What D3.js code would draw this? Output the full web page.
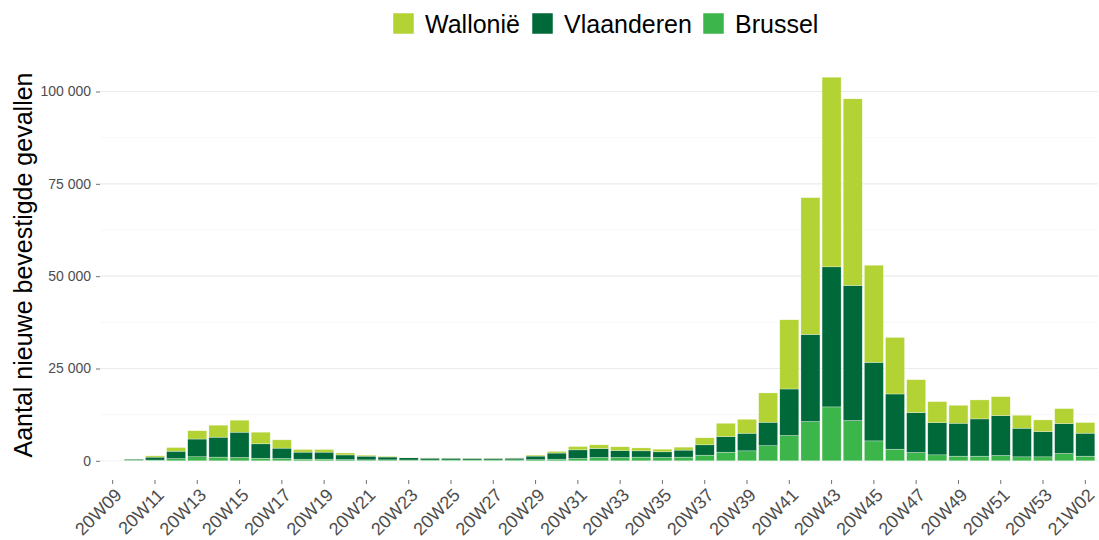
<!DOCTYPE html>
<html>
<head>
<meta charset="utf-8">
<script src="https://cdn.jsdelivr.net/npm/d3@7/dist/d3.min.js"></script>
<style>
body { margin: 0; background: #fff; }
svg { font-family: "Liberation Sans", Arial, sans-serif; }
</style>
</head>
<body>
<svg width="1099" height="540"></svg>
<script>
var weeks = ["20W09","20W10","20W11","20W12","20W13","20W14","20W15","20W16","20W17","20W18",
  "20W19","20W20","20W21","20W22","20W23","20W24","20W25","20W26","20W27","20W28",
  "20W29","20W30","20W31","20W32","20W33","20W34","20W35","20W36","20W37","20W38",
  "20W39","20W40","20W41","20W42","20W43","20W44","20W45","20W46","20W47","20W48",
  "20W49","20W50","20W51","20W52","20W53","21W01","21W02"];

var wallonie = [2, 50, 350, 1000, 2250, 3250, 3250, 3150, 2250, 720,
  720, 540, 270, 200, 120, 80, 70, 60, 60, 80,
  270, 450, 900, 1000, 1000, 800, 720, 800, 1900, 3600,
  3780, 7930, 18740, 37030, 51350, 50540, 26310, 15320, 8920, 5680,
  4860, 5140, 5140, 3510, 3150, 4050, 2880];

var vlaanderen = [5, 300, 800, 2000, 4800, 5400, 6850, 3900, 2800, 1900,
  1900, 1260, 1000, 770, 600, 500, 480, 430, 420, 470,
  980, 1650, 2340, 2430, 1900, 1700, 1530, 1900, 2800, 4230,
  4770, 6350, 12600, 23600, 37930, 36580, 21260, 14950, 10810, 8740,
  8920, 10090, 10810, 7750, 6850, 8110, 6220];

var brussel = [2, 150, 200, 600, 1100, 1000, 900, 700, 630, 450,
  450, 330, 260, 260, 230, 220, 230, 230, 240, 250,
  300, 450, 630, 900, 900, 1000, 900, 1000, 1530, 2340,
  2700, 4100, 6850, 10630, 14600, 10900, 5400, 3150, 2250, 1620,
  1260, 1260, 1440, 1080, 1080, 1980, 1260];

var yTicks = [0, 25000, 50000, 75000, 100000];
var yMinor = [12500, 37500, 62500, 87500];

var regions = ["Wallonië", "Vlaanderen", "Brussel"];
var colors = { "Wallonië": "#b3d335", "Vlaanderen": "#00693a", "Brussel": "#3cb54a" };

var svg = d3.select("svg"),
    width = +svg.attr("width"),
    height = +svg.attr("height");

var margin = { top: 58, right: 1, bottom: 60, left: 100 };

var rows = weeks.map(function(w, i) {
  return { week: w, "Wallonië": wallonie[i], "Vlaanderen": vlaanderen[i], "Brussel": brussel[i] };
});

var stack = d3.stack().keys(["Brussel", "Vlaanderen", "Wallonië"]);
var series = stack(rows);

var maxTotal = d3.max(series[series.length - 1], function(d) { return d[1]; });
var pad = maxTotal * 0.05;

var x = d3.scaleBand()
    .domain(weeks)
    .range([margin.left, width - margin.right])
    .paddingInner(0.1)
    .paddingOuter(0.15);

var y = d3.scaleLinear()
    .domain([-pad, maxTotal + pad])
    .range([height - margin.bottom, margin.top]);

var fmt = d3.formatLocale({ decimal: ",", thousands: "\u00a0", grouping: [3], currency: ["", "€"] }).format(",d");

// grid
svg.append("g")
  .selectAll("line")
  .data(yMinor)
  .enter().append("line")
    .attr("x1", margin.left).attr("x2", width - margin.right)
    .attr("y1", function(d) { return y(d); }).attr("y2", function(d) { return y(d); })
    .attr("stroke", "#f2f2f2").attr("stroke-width", 0.6);

svg.append("g")
  .selectAll("line")
  .data(yTicks)
  .enter().append("line")
    .attr("x1", margin.left).attr("x2", width - margin.right)
    .attr("y1", function(d) { return y(d); }).attr("y2", function(d) { return y(d); })
    .attr("stroke", "#ebebeb").attr("stroke-width", 1.1);

// bars
svg.append("g")
  .selectAll("g")
  .data(series)
  .enter().append("g")
    .attr("fill", function(s) { return colors[s.key]; })
  .selectAll("rect")
  .data(function(s) { return s; })
  .enter().append("rect")
    .attr("x", function(d) { return x(d.data.week); })
    .attr("width", x.bandwidth())
    .attr("y", function(d) { return y(d[1]); })
    .attr("height", function(d) { return Math.max(0, y(d[0]) - y(d[1])); })
    .attr("stroke", "#ffffff")
    .attr("stroke-opacity", 0.6)
    .attr("stroke-width", 0.5);

// y axis
var yAxis = svg.append("g")
    .attr("transform", "translate(" + margin.left + ",0)")
    .call(d3.axisLeft(y).tickValues(yTicks).tickFormat(fmt).tickSize(4).tickPadding(5));
yAxis.select(".domain").remove();
yAxis.selectAll("line").attr("stroke", "#4d4d4d").attr("stroke-width", 0.8);
yAxis.selectAll("text")
    .attr("fill", "#4d4d4d")
    .style("font-size", "14px");

// x axis
var xAxis = svg.append("g")
    .attr("transform", "translate(0," + (height - margin.bottom) + ")")
    .call(d3.axisBottom(x).tickValues(weeks.filter(function(w, i) { return i % 2 === 0; })).tickSize(4));
xAxis.select(".domain").remove();
xAxis.selectAll("line").attr("stroke", "#4d4d4d").attr("stroke-width", 0.8);
xAxis.selectAll("text")
    .attr("fill", "#4d4d4d")
    .style("font-size", "18px")
    .style("text-anchor", "end")
    .attr("x", 0)
    .attr("y", 0)
    .attr("dy", "0.72em")
    .attr("transform", "translate(1,7) rotate(-45)");

// y title
svg.append("text")
    .attr("transform", "translate(32," + ((margin.top + height - margin.bottom) / 2 - 4) + ") rotate(-90)")
    .attr("text-anchor", "middle")
    .style("font-size", "25px")
    .attr("fill", "#000")
    .text("Aantal nieuwe bevestigde gevallen");

// legend
var legendX = [393, 532, 703];
var legend = svg.append("g")
  .selectAll("g")
  .data(regions)
  .enter().append("g")
    .attr("transform", function(d, i) { return "translate(" + legendX[i] + ",13)"; });

legend.append("rect")
    .attr("width", 21).attr("height", 21)
    .attr("fill", function(d) { return colors[d]; })
    .attr("stroke", "#ffffff").attr("stroke-width", 0.5);

legend.append("text")
    .attr("x", 32).attr("y", 20)
    .style("font-size", "25px")
    .attr("fill", "#000")
    .text(function(d) { return d; });
</script>
</body>
</html>
